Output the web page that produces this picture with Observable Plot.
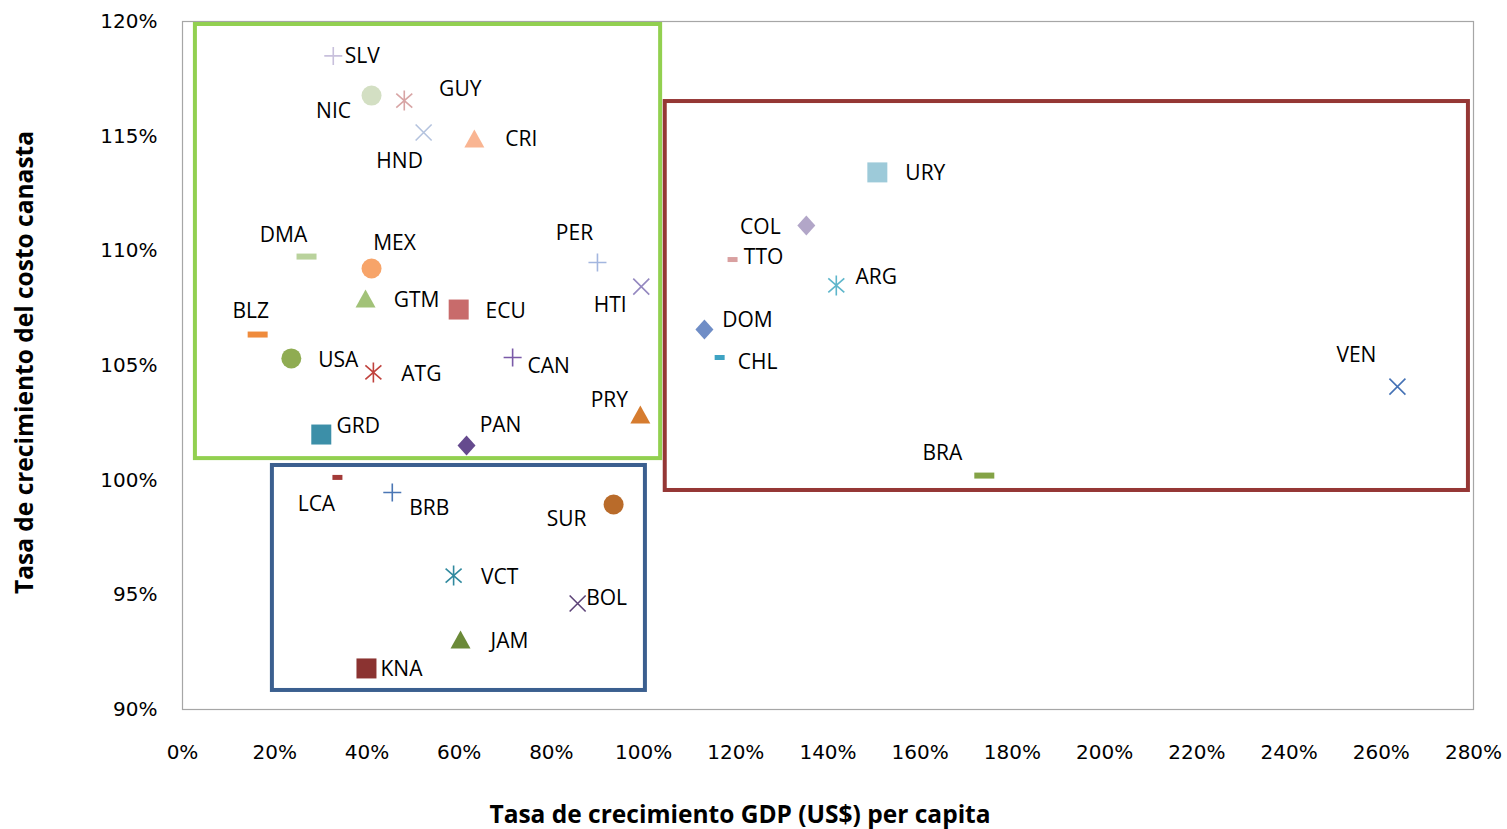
<!DOCTYPE html>
<html><head><meta charset="utf-8">
<script src="https://cdn.jsdelivr.net/npm/d3@7"></script>
<script src="https://cdn.jsdelivr.net/npm/@observablehq/plot@0.6"></script>
<style>body{margin:0;background:#fff}</style>
</head><body><div id="chart"></div>
<script>
// ---- data ----
const countries = ["SLV","NIC","GUY","HND","CRI","DMA","MEX","GTM","ECU","PER","HTI","BLZ","USA","ATG","CAN","PRY","GRD","PAN",
  "LCA","BRB","SUR","VCT","BOL","JAM","KNA",
  "URY","COL","TTO","ARG","DOM","CHL","VEN","BRA"];
const gdpGrowth = [32.7,41.0,48.1,52.3,63.3,26.9,41.0,39.7,59.9,90.0,99.5,16.3,23.6,41.4,71.6,99.3,30.1,61.6,
  33.6,45.5,93.5,58.8,85.7,60.3,39.9,
  150.7,135.3,119.3,141.8,113.2,116.5,263.5,173.9];
const basketGrowth = [118.5,116.77,116.55,115.16,114.85,109.75,109.23,107.88,107.44,109.49,108.44,106.35,105.31,104.70,105.35,102.82,101.99,101.51,
  100.12,99.46,98.94,95.84,94.62,93.01,91.79,
  113.42,111.10,109.62,108.49,106.57,105.35,104.08,100.20];
const markerKinds = ["plus","circle","asterisk","times","triangle","dash","circle","triangle","square","plus","times","dash","circle","asterisk","plus","triangle","square","diamond",
  "dashSmall","plus","circle","asterisk","times","triangle","square",
  "square","diamond","dashSmall","asterisk","diamond","dashSmall","times","dash"];
const markerColors = ["#c8c0dc","#d3dfc3","#d8a5a5","#b4c3de","#f9b592","#b9d29c","#f7a469","#a2c278","#c86b6b","#a3b6df","#9488c0","#ef8b3c","#8fac52","#c0423d","#7a5aa8","#d67c2f","#3c8fa8","#654a8e",
  "#a33a38","#4a76b4","#b96b2a","#318a9f","#5d4378","#6b8a38","#8b3331",
  "#9dcad9","#b2a6c8","#d9a0a0","#5eb6cb","#6f8dc6","#3ea3c3","#4572b5","#84a346"];
// group boxes (data units)
const boxNames = ["top-left","bottom","right"];
const boxX1 = [2.8, 19.5, 104.7];
const boxX2 = [103.7, 100.4, 278.9];
const boxY1 = [100.94, 90.83, 99.55];
const boxY2 = [119.87, 100.64, 116.51];
const boxColors = ["#92d050","#3b5f8f","#953735"];
const xTicks = [0,20,40,60,80,100,120,140,160,180,200,220,240,260,280];
const yTicks = [90,95,100,105,110,115,120];
const xTitle = "Tasa de crecimiento GDP (US$) per capita";
const yTitle = "Tasa de crecimiento del costo canasta";

// label placement (pixels, relative to marker)
const labelOffset = {
  SLV:[29,0], NIC:[-38,16], GUY:[56,-11], HND:[-24,29], CRI:[47,0], DMA:[-23,-21], MEX:[23,-25], GTM:[51,1],
  ECU:[47,2], PER:[-23,-29], HTI:[-31,19], BLZ:[-7,-23], USA:[47,2], ATG:[48,2], CAN:[36,9], PRY:[-31,-15],
  GRD:[37,-8], PAN:[34,-20], LCA:[-21,27], BRB:[37,16], SUR:[-47,15], VCT:[46,2], BOL:[29,-5], JAM:[49,1],
  KNA:[35,1], URY:[48,1], COL:[-46,2], TTO:[31,-2], ARG:[40,-8], DOM:[43,-9], CHL:[38,5], VEN:[-41,-31], BRA:[-42,-22]
};

const rows = countries.map((c,i)=>({code:c, x:gdpGrowth[i], y:basketGrowth[i], kind:markerKinds[i], color:markerColors[i]}));
const boxes = boxNames.map((n,i)=>({name:n, x1:boxX1[i], x2:boxX2[i], y1:boxY1[i], y2:boxY2[i], color:boxColors[i]}));

// ---- symbols ----
const sym = {
  circle:{draw(c){c.moveTo(10,0);c.arc(0,0,10,0,2*Math.PI);}},
  square:{draw(c){c.rect(-10,-10,20,20);}},
  triangle:{draw(c){c.moveTo(0,-10);c.lineTo(10,8);c.lineTo(-10,8);c.closePath();}},
  diamond:{draw(c){c.moveTo(0,-10);c.lineTo(9,0);c.lineTo(0,10);c.lineTo(-9,0);c.closePath();}},
  dash:{draw(c){c.rect(-10,-3,20,6);}},
  dashSmall:{draw(c){c.rect(-5,-2.5,10,5);}},
  plus:{draw(c){c.moveTo(-9,0);c.lineTo(9,0);c.moveTo(0,-9);c.lineTo(0,9);}},
  times:{draw(c){c.moveTo(-8,-8);c.lineTo(8,8);c.moveTo(8,-8);c.lineTo(-8,8);}},
  asterisk:{draw(c){c.moveTo(0,-10);c.lineTo(0,10);c.moveTo(-8,-7);c.lineTo(8,7);c.moveTo(8,-7);c.lineTo(-8,7);}}
};
const strokeKinds = new Set(["plus","times","asterisk"]);

const dotMarks = Object.keys(sym).map(k => {
  const data = rows.filter(d=>d.kind===k);
  const stroked = strokeKinds.has(k);
  return Plot.dot(data, {x:"x", y:"y", symbol: sym[k],
    fill: stroked ? "none" : d=>d.color,
    stroke: stroked ? d=>d.color : "none",
    strokeWidth: stroked ? 1.6 : 0});
});

const labelMarks = rows.map(d => Plot.text([d], {x:"x", y:"y", text:"code",
  dx: labelOffset[d.code][0], dy: labelOffset[d.code][1],
  fontSize: 21, fontFamily: "Open Sans", fill: "#000", textAnchor: "middle"}));

const chart = Plot.plot({
  width: 1507, height: 829,
  marginLeft: 182, marginRight: 34, marginTop: 21, marginBottom: 120,
  style: {fontFamily: "DejaVu Sans", fontSize: "20px", color: "#000", background: "#fff"},
  color: {type: "identity"},
  x: {domain: [0,280], ticks: xTicks, tickFormat: d=>d+"%", tickSize: 0, tickPadding: 35, label: null},
  y: {domain: [90,120], ticks: yTicks, tickFormat: d=>d+"%", tickSize: 0, tickPadding: 25, label: null},
  marks: [
    Plot.frame({stroke: "#a6a6a6", strokeWidth: 1.2}),
    ...dotMarks,
    ...labelMarks,
    Plot.rect(boxes, {x1:"x1", x2:"x2", y1:"y1", y2:"y2", fill:"none", stroke: d=>d.color, strokeWidth: 4}),
    Plot.text([xTitle], {frameAnchor: "bottom", dx: -88, dy: 113, fontSize: 24.5, fontWeight: "bold", fontFamily: "Open Sans", fill: "#000", textAnchor: "middle"}),
    Plot.text([yTitle], {frameAnchor: "left", dx: -157, dy: -3, rotate: -90, fontSize: 24.5, fontWeight: "bold", fontFamily: "Open Sans", fill: "#000", textAnchor: "middle"})
  ]
});
document.getElementById("chart").appendChild(chart);
</script>
</body></html>
